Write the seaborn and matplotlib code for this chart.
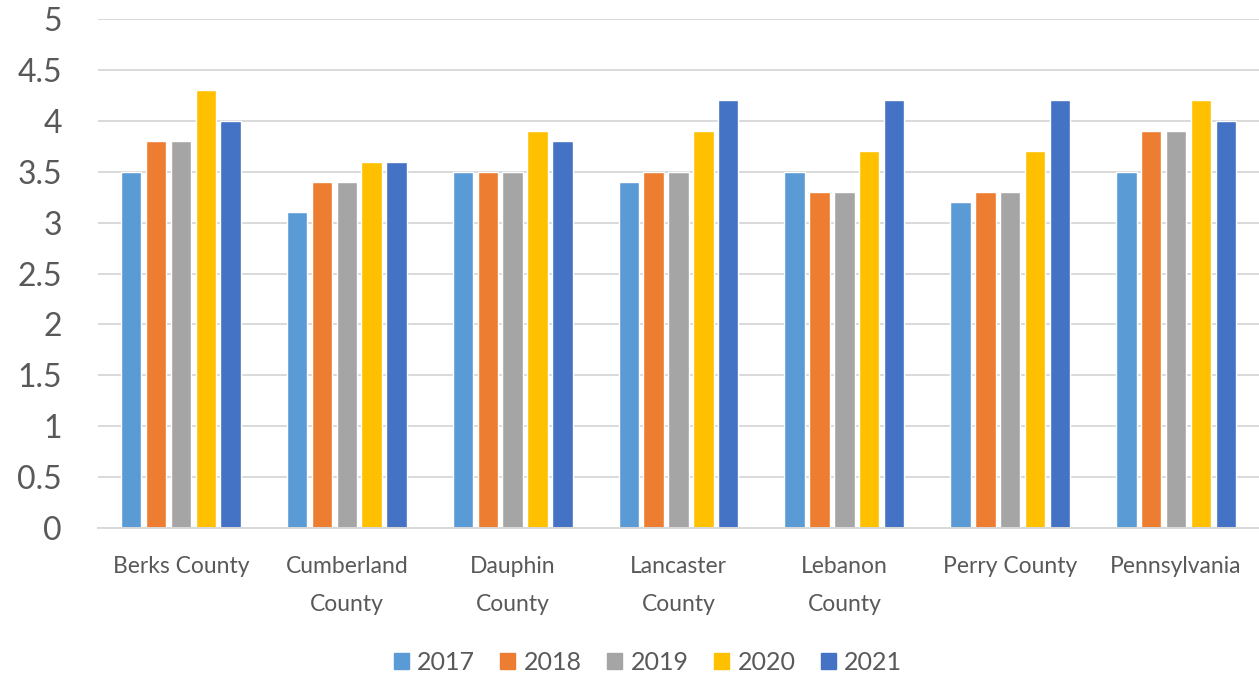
import numpy as np
import pandas as pd
import matplotlib
matplotlib.use('Agg')
import matplotlib.pyplot as plt
import seaborn as sns

# chart data
regions = ['Berks County', 'Cumberland\nCounty', 'Dauphin\nCounty', 'Lancaster\nCounty',
           'Lebanon\nCounty', 'Perry County', 'Pennsylvania']
years = ['2017', '2018', '2019', '2020', '2021']
v2017 = [3.5, 3.1, 3.5, 3.4, 3.5, 3.2, 3.5]
v2018 = [3.8, 3.4, 3.5, 3.5, 3.3, 3.3, 3.9]
v2019 = [3.8, 3.4, 3.5, 3.5, 3.3, 3.3, 3.9]
v2020 = [4.3, 3.6, 3.9, 3.9, 3.7, 3.7, 4.2]
v2021 = [4.0, 3.6, 3.8, 4.2, 4.2, 4.2, 4.0]
yticks = [0, 0.5, 1, 1.5, 2, 2.5, 3, 3.5, 4, 4.5, 5]
ytick_labels = ['0', '0.5', '1', '1.5', '2', '2.5', '3', '3.5', '4', '4.5', '5']

colors = ['#5B9BD5', '#ED7D31', '#A5A5A5', '#FFC000', '#4472C4']
text_col = '#595959'
grid_col = '#D9D9D9'

#long form for seaborn
series = [v2017, v2018, v2019, v2020, v2021]
df = pd.DataFrame({
    'Region': regions * len(years),
    'Year': [y for y in years for _ in regions],
    'Value': [v for s in series for v in s],
})

sns.set_style('white')
plt.rcParams['font.family'] = ['Lato', 'DejaVu Sans']

fig = plt.figure(figsize=(12.59, 6.78), dpi=100)
ax = fig.add_axes([98/1259, 1-528/678, 1-98/1259, (528-19)/678])

sns.barplot(data=df, x='Region', y='Value', hue='Year', palette=colors,
            saturation=1, width=0.75, gap=0.18, order=regions, hue_order=years, ax=ax)

ax.set_ylim(0, 5)
ax.set_xlim(-0.5, len(regions) - 0.5)
ax.set_yticks(yticks)
ax.set_yticklabels(ytick_labels)
ax.yaxis.grid(True, color=grid_col, linewidth=1.4)
ax.set_axisbelow(True)
ax.set_xlabel('')
ax.set_ylabel('')
for s in ['top', 'right', 'left']:
    ax.spines[s].set_visible(False)
ax.spines['bottom'].set_color(grid_col)
ax.spines['bottom'].set_linewidth(1.4)
ax.tick_params(axis='y', length=0, pad=26, labelsize=23, labelcolor=text_col)
ax.tick_params(axis='x', length=0, pad=20, labelsize=16.5, labelcolor=text_col)
for lab in ax.get_yticklabels():
    lab.set_horizontalalignment('right')
for lab in ax.get_xticklabels():
    lab.set_linespacing(2.0)

ax.get_legend().remove()
handles = [plt.Rectangle((0, 0), 1, 1, color=c) for c in colors]
fig.legend(handles, years, loc='center', bbox_to_anchor=(648/1259, 1-662/678), ncol=5,
           frameon=False, fontsize=18, labelcolor=text_col, handlelength=0.6,
           handleheight=0.6, handletextpad=0.35, columnspacing=1.0)

fig.savefig('out.png', dpi=100)
